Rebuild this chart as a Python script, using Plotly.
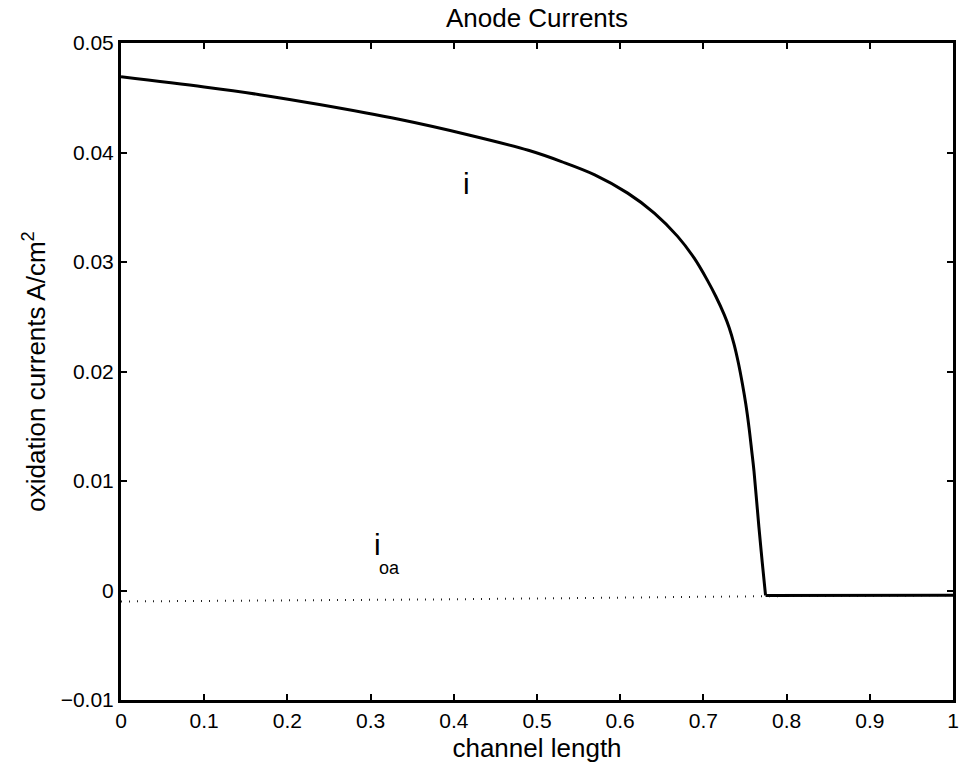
import plotly.graph_objects as go

# Position along the channel (normalised) and total anode current density i
channel_x = [0.0, 0.1, 0.1666, 0.2384, 0.334, 0.418, 0.4896, 0.5294, 0.5694,
             0.609, 0.641, 0.669, 0.689, 0.705, 0.715, 0.725, 0.731, 0.7368,
             0.742, 0.7468, 0.751, 0.7548, 0.758, 0.7608, 0.7667, 0.7707, 0.7747]
current_i = [0.04691, 0.04598, 0.04528, 0.04438, 0.04303, 0.04160, 0.04020,
             0.03917, 0.03796, 0.03629, 0.03447, 0.03234, 0.03035, 0.02830,
             0.02685, 0.02520, 0.02400, 0.02250, 0.02080, 0.01890, 0.01700,
             0.01490, 0.01280, 0.01090, 0.00580, 0.00260, -0.00045]

# Beyond the cut-off the total current follows the oxidation current
tail_x = [0.7747, 0.80, 0.90, 1.0]
tail_i = [-0.00045, -0.00045, -0.00044, -0.00043]

# Oxidation current i_oa along the channel
oa_x = [0.0, 0.39, 0.775, 1.0]
current_oa = [-0.00100, -0.00081, -0.00052, -0.00043]

x_ticks = [0, 0.1, 0.2, 0.3, 0.4, 0.5, 0.6, 0.7, 0.8, 0.9, 1]
x_tick_text = ["0", "0.1", "0.2", "0.3", "0.4", "0.5", "0.6", "0.7", "0.8", "0.9", "1"]
y_ticks = [-0.01, 0, 0.01, 0.02, 0.03, 0.04, 0.05]
y_tick_text = ["\u22120.01", "0", "0.01", "0.02", "0.03", "0.04", "0.05"]

FONT = "Liberation Sans, Arial, Helvetica, sans-serif"

fig = go.Figure()
fig.add_trace(go.Scatter(
    x=oa_x, y=current_oa, mode="lines",
    line=dict(color="#222222", width=2, dash="1px,7px"),
    showlegend=False, hoverinfo="skip",
))
fig.add_trace(go.Scatter(
    x=channel_x, y=current_i, mode="lines",
    line=dict(color="black", width=3, shape="spline", smoothing=1.0),
    showlegend=False,
))
fig.add_trace(go.Scatter(
    x=tail_x, y=tail_i, mode="lines",
    line=dict(color="black", width=3),
    showlegend=False,
))

axis_common = dict(
    showgrid=False, zeroline=False,
    showline=True, linecolor="black", linewidth=3,
    mirror="ticks", ticks="inside", ticklen=6, tickwidth=2, tickcolor="black",
    tickfont=dict(family=FONT, size=21, color="black"),
)

fig.update_xaxes(
    range=[0, 1], tickvals=x_ticks, ticktext=x_tick_text,
    title=dict(text="channel length", font=dict(family=FONT, size=26, color="black"),
               standoff=8),
    **axis_common,
)
fig.update_yaxes(
    range=[-0.01, 0.05], tickvals=y_ticks, ticktext=y_tick_text,
    title=dict(text="oxidation currents A/cm<sup>2</sup>",
               font=dict(family=FONT, size=26, color="black"), standoff=8),
    **axis_common,
)

fig.add_annotation(x=0.4155, y=0.0372, text="i", showarrow=False,
                   font=dict(family=FONT, size=30, color="black"))
fig.add_annotation(x=0.3084, y=0.0042, text="i", showarrow=False,
                   font=dict(family=FONT, size=30, color="black"))
fig.add_annotation(x=0.3233, y=0.0021, text="oa", showarrow=False,
                   font=dict(family=FONT, size=18, color="black"))

fig.update_layout(
    width=971, height=770,
    margin=dict(l=121, r=14, t=43, b=68),
    paper_bgcolor="white", plot_bgcolor="white",
    title=dict(text="Anode Currents", x=0.5, xanchor="center",
               xref="paper", y=0.988, yanchor="top",
               font=dict(family=FONT, size=26, color="black")),
)

fig.write_html("out.html")
